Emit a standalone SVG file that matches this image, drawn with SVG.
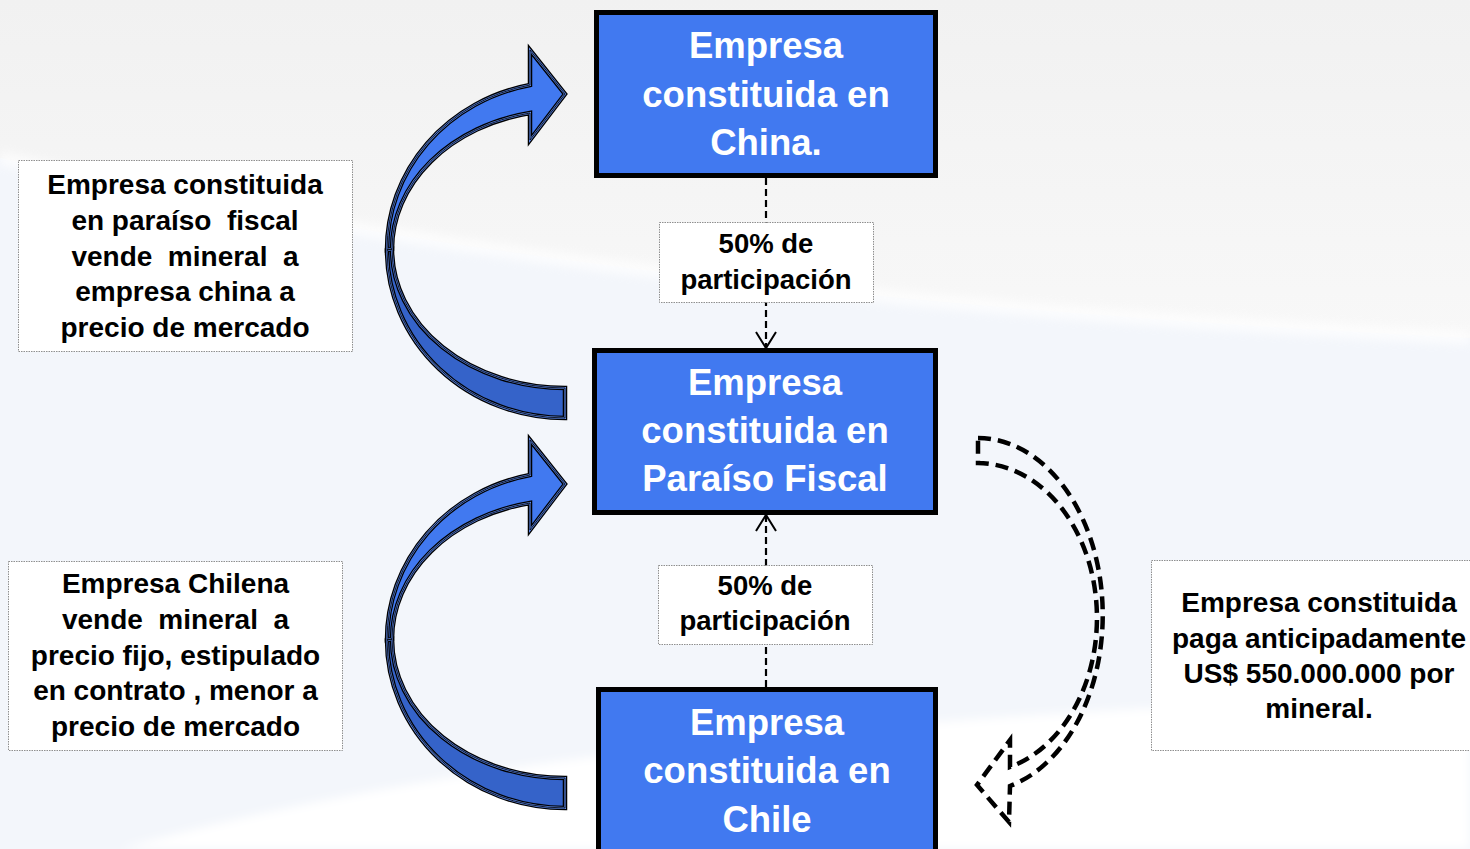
<svg xmlns="http://www.w3.org/2000/svg" width="1470" height="849" viewBox="0 0 1470 849">
<defs>
<style>
.node rect{fill:#4179f0;stroke:#000;stroke-width:5}
.node text{font-family:"Liberation Sans",Arial,sans-serif;font-weight:bold;font-size:36.5px;fill:#fff;text-anchor:middle}
.note rect{fill:#fff;stroke:#8f8f8f;stroke-width:1;stroke-dasharray:1.5 1}
.note text{font-family:"Liberation Sans",Arial,sans-serif;font-weight:bold;font-size:28px;fill:#000;text-anchor:middle;white-space:pre}
.lbl rect{fill:#fff;stroke:#8f8f8f;stroke-width:1;stroke-dasharray:1.5 1}
.lbl text{font-family:"Liberation Sans",Arial,sans-serif;font-weight:bold;font-size:27.5px;fill:#000;text-anchor:middle}
.conn{fill:none;stroke:#000;stroke-width:2.2;stroke-dasharray:7 4}
.big1{stroke:#000;stroke-width:4.5;stroke-linejoin:miter}
.big2{fill:none;stroke:#5b86e6;stroke-width:2}
.big3{fill:none;stroke:#000;stroke-width:0.8}
.dash{fill:none;stroke:#000;stroke-width:4.5;stroke-dasharray:13 7}
</style>
<linearGradient id="gTop" x1="0" y1="0" x2="0" y2="1">
<stop offset="0" stop-color="#f1f1f1"/>
<stop offset="1" stop-color="#f8f8f8"/>
</linearGradient>
<filter id="blur" x="-5%" y="-50%" width="110%" height="200%"><feGaussianBlur stdDeviation="5"/></filter>
<marker id="open" viewBox="-2 -12 20 24" refX="16" refY="0" markerWidth="20" markerHeight="24" markerUnits="userSpaceOnUse" orient="auto">
<path d="M0 -10 L16 0 L0 10" fill="none" stroke="#000" stroke-width="2"/>
</marker>
<path id="arrUp" d="M530 113 L530 140 L565 94 L530 50 L530 85 A178 168 0 0 0 387 250 L392 249 A173 139 0 0 1 530 113 Z"/>
<path id="arrLow" d="M387 250 A178 168 0 0 0 565 418 L565 388 A173 139 0 0 1 392 249 Z"/>
</defs>

<g id="background">
<rect width="1470" height="849" fill="#f3f6fb"/>
<path d="M0 0 H1470 V338 C700 300 300 225 0 158 Z" fill="url(#gTop)"/>
<path d="M0 158 C300 225 700 300 1470 338" fill="none" stroke="#fff" stroke-width="14" opacity="0.7" filter="url(#blur)"/>
<path d="M120 849 C400 770 800 715 1470 695 V849 Z" fill="#fff" filter="url(#blur)"/>
</g>

<g id="connectors">
<line class="conn" x1="766" y1="178" x2="766" y2="348" marker-end="url(#open)"/>
<line class="conn" x1="766" y1="687" x2="766" y2="515" marker-end="url(#open)"/>
<g id="curved-arrow-1">
<use href="#arrLow" class="big1" fill="#3563c9"/>
<use href="#arrUp" class="big1" fill="#4179f0"/>
<use href="#arrLow" class="big2"/>
<use href="#arrUp" class="big2"/>
<use href="#arrLow" class="big3"/>
<use href="#arrUp" class="big3"/>
</g>
<g id="curved-arrow-2" transform="translate(0,390)">
<use href="#arrLow" class="big1" fill="#3563c9"/>
<use href="#arrUp" class="big1" fill="#4179f0"/>
<use href="#arrLow" class="big2"/>
<use href="#arrUp" class="big2"/>
<use href="#arrLow" class="big3"/>
<use href="#arrUp" class="big3"/>
</g>
<path id="dashed-arrow" class="dash" d="M978 438 A125 177 0 0 1 1010 786 L1009 822 L977 785 L1010 740 L1010 767 A120 155 0 0 0 978 463 Z"/>
<g id="label-1" class="lbl">
<rect x="659.5" y="222.5" width="214" height="80"/>
<text x="766" y="253">50% de</text>
<text x="766" y="289">participación</text>
</g>
<g id="label-2" class="lbl">
<rect x="658.5" y="565.5" width="214" height="79"/>
<text x="765" y="595">50% de</text>
<text x="765" y="630">participación</text>
</g>
</g>

<g id="node-china" class="node">
<rect x="596.5" y="12.5" width="339" height="163"/>
<text x="766" y="58">Empresa</text>
<text x="766" y="106.5">constituida en</text>
<text x="766" y="155">China.</text>
</g>
<g id="node-paraiso" class="node">
<rect x="594.5" y="350.5" width="341" height="162"/>
<text x="765" y="395">Empresa</text>
<text x="765" y="443">constituida en</text>
<text x="765" y="491">Paraíso Fiscal</text>
</g>
<g id="node-chile" class="node">
<rect x="598.5" y="689.5" width="337" height="200"/>
<text x="767" y="735">Empresa</text>
<text x="767" y="783">constituida en</text>
<text x="767" y="832">Chile</text>
</g>

<g id="note-1" class="note">
<rect x="18.5" y="160.5" width="334" height="191"/>
<text x="185" y="194">Empresa constituida</text>
<text x="185" y="230">en paraíso  fiscal</text>
<text x="185" y="266">vende  mineral  a</text>
<text x="185" y="301">empresa china a</text>
<text x="185" y="337">precio de mercado</text>
</g>
<g id="note-2" class="note">
<rect x="8.5" y="561.5" width="334" height="189"/>
<text x="175.5" y="593">Empresa Chilena</text>
<text x="175.5" y="629">vende  mineral  a</text>
<text x="175.5" y="665">precio fijo, estipulado</text>
<text x="175.5" y="700">en contrato , menor a</text>
<text x="175.5" y="736">precio de mercado</text>
</g>
<g id="note-3" class="note">
<rect x="1151.5" y="560.5" width="340" height="190"/>
<text x="1319" y="612">Empresa constituida</text>
<text x="1319" y="648">paga anticipadamente</text>
<text x="1319" y="683">US$ 550.000.000 por</text>
<text x="1319" y="718">mineral.</text>
</g>
</svg>
